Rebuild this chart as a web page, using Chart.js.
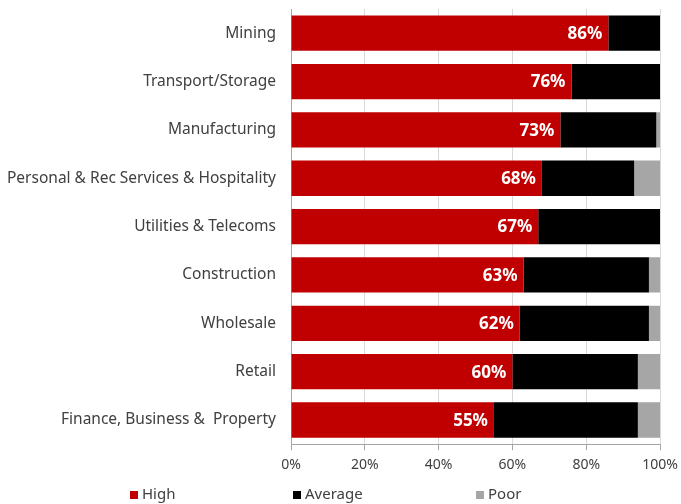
<!DOCTYPE html>
<html>
<head>
<meta charset="utf-8">
<script src="https://cdn.jsdelivr.net/npm/chart.js@4.4.1/dist/chart.umd.min.js"></script>
<style>
  html, body { margin: 0; padding: 0; background: #fff; }
  #wrap { position: relative; width: 681px; height: 504px; }
  #legend { position: absolute; left: 0; top: 483px; width: 681px; height: 20px;
            font-family: "Noto Sans", sans-serif; font-size: 15px; color: #404040; }
  #legend span { position: absolute; top: 0; line-height: 20px; }
  #legend i { display: inline-block; width: 8px; height: 8px; margin-right: 4px; vertical-align: 0px; }
</style>
</head>
<body>
<div id="wrap">
  <canvas id="chart" width="681" height="504"></canvas>
  <div id="legend"></div>
</div>
<script>
var categories = ["Mining", "Transport/Storage", "Manufacturing",
  "Personal & Rec Services & Hospitality", "Utilities & Telecoms",
  "Construction", "Wholesale", "Retail", "Finance, Business &  Property"];
var high    = [86, 76, 73, 68, 67, 63, 62, 60, 55];
var average = [14, 24, 26, 25, 33, 34, 35, 34, 39];
var poor    = [0, 0, 1, 7, 0, 3, 3, 6, 6];
var xTicks  = [0, 20, 40, 60, 80, 100];

var seriesNames  = ["High", "Average", "Poor"];
var seriesColors = ["#c00000", "#000000", "#a6a6a6"];
var legendX      = [130, 293, 476];

// white % labels at the inner end of the red bars
var barLabels = {
  id: 'barLabels',
  afterDatasetsDraw: function(chart) {
    var ctx = chart.ctx;
    var meta = chart.getDatasetMeta(0);
    ctx.save();
    ctx.fillStyle = "#fff";
    ctx.font = "bold 17px 'Noto Sans', sans-serif";
    ctx.textAlign = "right";
    ctx.textBaseline = "middle";
    meta.data.forEach(function(bar, i) {
      ctx.fillText(high[i] + "%", bar.x - 6, bar.y + 1);
    });
    ctx.restore();
  }
};

var ctx = document.getElementById("chart").getContext("2d");
new Chart(ctx, {
  type: 'bar',
  data: {
    labels: categories,
    datasets: [
      { label: seriesNames[0], data: high,    backgroundColor: seriesColors[0] },
      { label: seriesNames[1], data: average, backgroundColor: seriesColors[1] },
      { label: seriesNames[2], data: poor,    backgroundColor: seriesColors[2] }
    ]
  },
  options: {
    indexAxis: 'y',
    responsive: false,
    animation: false,
    layout: { padding: { top: 9, right: 21, bottom: 25, left: 0 } },
    datasets: { bar: { barPercentage: 0.73, categoryPercentage: 1 } },
    plugins: { legend: { display: false }, tooltip: { enabled: false } },
    scales: {
      x: {
        stacked: true,
        min: 0, max: 100,
        afterBuildTicks: function(scale) {
          scale.ticks = xTicks.map(function(v) { return { value: v }; });
        },
        // let "100%" hang past the plot edge
        afterFit: function(scale) { scale.paddingLeft = 0; scale.paddingRight = 0; },
        ticks: {
          callback: function(v) { return v + "%"; },
          color: "#404040",
          font: { family: "'Noto Sans', sans-serif", size: 14 },
          padding: 6,
          maxRotation: 0
        },
        grid: { color: "#d9d9d9", tickLength: 6, tickColor: "#a6a6a6" },
        border: { color: "#a6a6a6" }
      },
      y: {
        stacked: true,
        afterFit: function(scale) {
          scale.width = 291;
          scale.paddingTop = 0;
          scale.paddingBottom = 0;
        },
        ticks: {
          color: "#404040",
          font: { family: "'Noto Sans', sans-serif", size: 15.5 },
          padding: 7
        },
        grid: { display: false },
        border: { color: "#a6a6a6" }
      }
    }
  },
  plugins: [barLabels]
});

// legend laid out across the bottom
var legend = document.getElementById("legend");
seriesNames.forEach(function(name, i) {
  var s = document.createElement("span");
  s.style.left = legendX[i] + "px";
  s.innerHTML = '<i style="background:' + seriesColors[i] + '"></i>' + name;
  legend.appendChild(s);
});
</script>
</body>
</html>
